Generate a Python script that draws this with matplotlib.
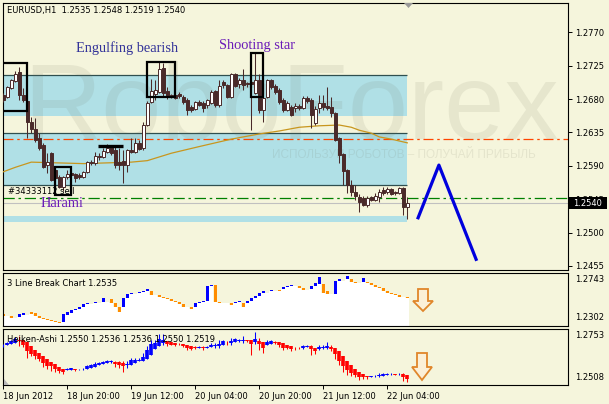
import matplotlib
matplotlib.use('Agg')
import matplotlib.pyplot as plt
from matplotlib.patches import Rectangle, Polygon

plt.rcParams['font.family'] = ['DejaVu Sans']

W, H = 609, 404
BG = '#f5f5dc'

# ---------------- data ----------------
opens = [1.2685, 1.2683, 1.2695, 1.2704, 1.2717, 1.2685, 1.2677, 1.2649, 1.2640, 1.2628,
         1.2618, 1.2591, 1.2607, 1.2584, 1.2575, 1.2561, 1.2575, 1.2580, 1.2579, 1.2578,
         1.2575, 1.2582, 1.2595, 1.2594, 1.2603, 1.2602, 1.2609, 1.2615, 1.2611, 1.2595,
         1.2597, 1.2591, 1.2611, 1.2609, 1.2621, 1.2614, 1.2645, 1.2676, 1.2687, 1.2690,
         1.2722, 1.2691, 1.2685, 1.2685, 1.2687, 1.2683, 1.2679, 1.2669, 1.2667, 1.2676,
         1.2675, 1.2672, 1.2675, 1.2691, 1.2672, 1.2703, 1.2699, 1.2683, 1.2714, 1.2700,
         1.2706, 1.2702, 1.2703, 1.2688, 1.2706, 1.2665, 1.2683, 1.2706, 1.2698, 1.2692,
         1.2679, 1.2665, 1.2669, 1.2668, 1.2671, 1.2668, 1.2681, 1.2679, 1.2648, 1.2668,
         1.2675, 1.2671, 1.2669, 1.2661, 1.2628, 1.2606, 1.2584, 1.2564, 1.2555, 1.2548,
         1.2547, 1.2537, 1.2548, 1.2544, 1.2548, 1.2557, 1.2555, 1.2559, 1.2555, 1.2553,
         1.2560, 1.2535]
highs = [1.2688, 1.2698, 1.2707, 1.2718, 1.2723, 1.2695, 1.2679, 1.2656, 1.2654, 1.2634,
         1.2621, 1.2607, 1.2609, 1.2587, 1.2578, 1.2576, 1.2584, 1.2582, 1.2580, 1.2580,
         1.2583, 1.2597, 1.2598, 1.2609, 1.2607, 1.2614, 1.2619, 1.2618, 1.2615, 1.2614,
         1.2611, 1.2613, 1.2628, 1.2628, 1.2625, 1.2649, 1.2677, 1.2707, 1.2706, 1.2730,
         1.2729, 1.2696, 1.2687, 1.2687, 1.2690, 1.2685, 1.2681, 1.2672, 1.2677, 1.2679,
         1.2677, 1.2680, 1.2692, 1.2692, 1.2706, 1.2706, 1.2700, 1.2715, 1.2715, 1.2708,
         1.2721, 1.2703, 1.2706, 1.2742, 1.2714, 1.2683, 1.2707, 1.2707, 1.2700, 1.2695,
         1.2681, 1.2677, 1.2672, 1.2675, 1.2673, 1.2684, 1.2684, 1.2681, 1.2671, 1.2685,
         1.2685, 1.2696, 1.2683, 1.2662, 1.2629, 1.2607, 1.2586, 1.2571, 1.2564, 1.2552,
         1.2549, 1.2549, 1.2549, 1.2553, 1.2559, 1.2561, 1.2561, 1.2560, 1.2556, 1.2562,
         1.2561, 1.2548]
lows = [1.2676, 1.2681, 1.2694, 1.2703, 1.2679, 1.2676, 1.2628, 1.2634, 1.2622, 1.2611,
        1.2587, 1.2580, 1.2570, 1.2563, 1.2560, 1.2556, 1.2572, 1.2576, 1.2568, 1.2572,
        1.2574, 1.2580, 1.2591, 1.2591, 1.2598, 1.2601, 1.2607, 1.2605, 1.2587, 1.2584,
        1.2567, 1.2582, 1.2607, 1.2607, 1.2611, 1.2611, 1.2644, 1.2675, 1.2679, 1.2688,
        1.2683, 1.2680, 1.2681, 1.2680, 1.2681, 1.2673, 1.2659, 1.2663, 1.2665, 1.2671,
        1.2663, 1.2668, 1.2673, 1.2669, 1.2669, 1.2695, 1.2681, 1.2681, 1.2696, 1.2695,
        1.2692, 1.2696, 1.2638, 1.2687, 1.2661, 1.2649, 1.2681, 1.2694, 1.2687, 1.2673,
        1.2663, 1.2664, 1.2657, 1.2663, 1.2665, 1.2667, 1.2675, 1.2641, 1.2645, 1.2661,
        1.2665, 1.2665, 1.2656, 1.2623, 1.2594, 1.2564, 1.2553, 1.2549, 1.2544, 1.2528,
        1.2536, 1.2535, 1.2542, 1.2542, 1.2541, 1.2551, 1.2552, 1.2551, 1.2551, 1.2552,
        1.2524, 1.2519]
closes = [1.2679, 1.2696, 1.2706, 1.2714, 1.2685, 1.2679, 1.2649, 1.2640, 1.2625, 1.2614,
          1.2588, 1.2595, 1.2571, 1.2574, 1.2561, 1.2575, 1.2579, 1.2578, 1.2574, 1.2575,
          1.2582, 1.2595, 1.2594, 1.2603, 1.2602, 1.2610, 1.2614, 1.2607, 1.2591, 1.2591,
          1.2591, 1.2611, 1.2609, 1.2621, 1.2613, 1.2645, 1.2675, 1.2691, 1.2692, 1.2720,
          1.2688, 1.2683, 1.2683, 1.2682, 1.2684, 1.2676, 1.2665, 1.2665, 1.2676, 1.2672,
          1.2668, 1.2679, 1.2690, 1.2672, 1.2698, 1.2699, 1.2683, 1.2714, 1.2698, 1.2706,
          1.2699, 1.2700, 1.2700, 1.2706, 1.2665, 1.2681, 1.2706, 1.2696, 1.2690, 1.2676,
          1.2665, 1.2675, 1.2659, 1.2671, 1.2668, 1.2681, 1.2677, 1.2659, 1.2667, 1.2675,
          1.2669, 1.2668, 1.2661, 1.2625, 1.2605, 1.2583, 1.2564, 1.2555, 1.2549, 1.2541,
          1.2537, 1.2547, 1.2544, 1.2549, 1.2555, 1.2553, 1.2559, 1.2552, 1.2553, 1.2560,
          1.2535, 1.2540]

ma_idx = [0, 3, 7, 20, 32, 36, 42, 49, 57, 64, 69, 74, 79, 84, 87, 89, 92, 94, 97, 101]
ma_val = [1.2582, 1.2588, 1.2595, 1.2593, 1.2595, 1.2597, 1.2607, 1.2616, 1.2626, 1.2633,
          1.2637, 1.2642, 1.2644, 1.2645, 1.2642, 1.2638, 1.2634, 1.2629, 1.2626, 1.2621]

# 3 Line Break bricks: bar index, low, high, direction (1 up / 0 down)
lb_idx = [0, 2, 4, 5, 7, 8, 9, 10, 11, 12, 13, 14, 15, 16, 17, 18, 19, 20, 21, 23,
          25, 27, 28, 29, 30, 31, 32, 34, 35, 36, 37, 39, 40, 41, 42, 43, 44, 45, 47, 48,
          49, 50, 51, 52, 53, 54, 55, 57, 58, 59, 60, 61, 62, 63, 64, 65, 67, 69, 70, 71,
          72, 74, 75, 77, 78, 79, 80, 81, 83, 84, 86, 87, 88, 90, 91, 92, 93, 94, 95, 96,
          97, 98, 99, 100, 101]
lb_low = [1.2389, 1.2369, 1.2377, 1.2394, 1.2402, 1.2385, 1.2371, 1.2363, 1.2352, 1.2344,
          1.2335, 1.2330, 1.2338, 1.2394, 1.2413, 1.2435, 1.2441, 1.2458, 1.2483, 1.2496,
          1.2504, 1.2496, 1.2458, 1.2421, 1.2458, 1.2533, 1.2566, 1.2579, 1.2587, 1.2596,
          1.2560, 1.2546, 1.2533, 1.2524, 1.2513, 1.2499, 1.2485, 1.2463, 1.2443, 1.2463,
          1.2496, 1.2504, 1.2513, 1.2635, 1.2504, 1.2496, 1.2491, 1.2474, 1.2491, 1.2504,
          1.2463, 1.2496, 1.2513, 1.2533, 1.2552, 1.2574, 1.2596, 1.2596, 1.2607, 1.2624,
          1.2635, 1.2616, 1.2602, 1.2607, 1.2635, 1.2651, 1.2574, 1.2568, 1.2568, 1.2679,
          1.2691, 1.2671, 1.2662, 1.2671, 1.2657, 1.2643, 1.2629, 1.2616, 1.2596, 1.2579,
          1.2568, 1.2560, 1.2546, 1.2541, 1.2533]
lb_high = [1.2398, 1.2385, 1.2402, 1.2410, 1.2419, 1.2410, 1.2388, 1.2371, 1.2363, 1.2352,
           1.2344, 1.2338, 1.2399, 1.2421, 1.2435, 1.2441, 1.2463, 1.2485, 1.2491, 1.2504,
           1.2533, 1.2527, 1.2496, 1.2458, 1.2533, 1.2566, 1.2574, 1.2587, 1.2596, 1.2607,
           1.2596, 1.2560, 1.2546, 1.2533, 1.2524, 1.2513, 1.2499, 1.2485, 1.2463, 1.2496,
           1.2504, 1.2513, 1.2635, 1.2643, 1.2643, 1.2504, 1.2496, 1.2491, 1.2504, 1.2513,
           1.2496, 1.2513, 1.2533, 1.2552, 1.2574, 1.2596, 1.2602, 1.2602, 1.2624, 1.2635,
           1.2641, 1.2635, 1.2616, 1.2635, 1.2657, 1.2712, 1.2651, 1.2596, 1.2679, 1.2691,
           1.2718, 1.2691, 1.2671, 1.2699, 1.2671, 1.2657, 1.2643, 1.2629, 1.2616, 1.2596,
           1.2579, 1.2568, 1.2560, 1.2546, 1.2541]
lb_up = [0, 0, 1, 1, 0, 0, 0, 0, 0, 0, 0, 0, 1, 1, 1, 1, 1, 1, 1, 1,
         1, 0, 0, 0, 1, 1, 1, 1, 1, 1, 0, 0, 0, 0, 0, 0, 0, 0, 0, 1,
         1, 1, 1, 1, 0, 0, 0, 0, 1, 1, 0, 1, 1, 1, 1, 1, 1, 0, 1, 1,
         1, 0, 0, 1, 1, 1, 0, 0, 1, 1, 1, 0, 0, 1, 0, 0, 0, 0, 0, 0,
         0, 0, 0, 0, 0]

time_idx = [0, 16, 32, 48, 64, 80, 96]
time_labels = ['18 Jun 2012', '18 Jun 20:00', '19 Jun 12:00', '20 Jun 04:00',
               '20 Jun 20:00', '21 Jun 12:00', '22 Jun 04:00']
price_ticks = [1.2455, 1.2500, 1.2545, 1.2590, 1.2635, 1.2680, 1.2725, 1.2770]

zone_upper = (1.2657, 1.2712)
zone_lower = (1.2564, 1.2634)
zone_thin = (1.2514, 1.2522)
zone_end = 100.9
level_lines = [1.2712, 1.2634, 1.2564]
green_level = 1.2547
red_level = 1.2626
last_price = 1.2540

box_x0 = [-0.3, 35.9, 61.9, 12.9]
box_x1 = [5.9, 42.9, 64.9, 16.9]
box_lo = [1.2664, 1.2683, 1.2683, 1.2551]
box_hi = [1.2729, 1.2730, 1.2742, 1.2588]
mark_x = [23.7, 29.9]
mark_y = 1.2617

fc_idx = [103.7, 108.9, 118.2]
fc_val = [1.2520, 1.2591, 1.2464]

# ---------------- figure ----------------
fig = plt.figure(figsize=(W / 100, H / 100), dpi=100, facecolor=BG)


def px_axes(x0, y0, x1, y1):
    a = fig.add_axes([x0 / W, 1 - y1 / H, (x1 - x0) / W, (y1 - y0) / H])
    a.set_facecolor(BG)
    for s in a.spines.values():
        s.set_linewidth(0.8)
        s.set_color('black')
    return a


def ftxt(x, y, s, **kw):
    kw.setdefault('va', 'center')
    return fig.text(x / W, 1 - y / H, s, **kw)


def fpoly(pts, **kw):
    p = Polygon([(x / W, 1 - y / H) for x, y in pts], closed=True,
                transform=fig.transFigure, **kw)
    fig.add_artist(p)


XL, XR = -0.075, 141.175
n = len(opens)

# ---- main chart ----
ax = px_axes(3, 3, 568, 270)
ax.set_xlim(XL, XR)
ax.set_ylim(1.24496, 1.28095)

ax.add_patch(Rectangle((XL, zone_upper[0]), zone_end - XL, zone_upper[1] - zone_upper[0],
                       facecolor='#b0e0e6', edgecolor='none', zorder=1))
ax.add_patch(Rectangle((XL, zone_lower[0]), zone_end - XL, zone_lower[1] - zone_lower[0],
                       facecolor='#b0e0e6', edgecolor='none', zorder=1))
ax.add_patch(Rectangle((XL, zone_thin[0]), zone_end - XL, zone_thin[1] - zone_thin[0],
                       facecolor='#b0e0e6', edgecolor='none', zorder=1))
ax.hlines(level_lines, XL, zone_end, colors='#2f4f4f', lw=0.9, zorder=2)

ax.text(0.035, 0.49, 'RoboForex', transform=ax.transAxes, fontsize=78,
        family='Liberation Sans', color='#6e6e5a', alpha=0.11, zorder=2,
        va='baseline', ha='left', clip_on=True)
ax.text(0.476, 0.431, 'ИСПОЛЬЗУЙ РОБОТОВ – ПОЛУЧАЙ ПРИБЫЛЬ', transform=ax.transAxes,
        fontsize=8.5, family='Liberation Sans', color='#6e6e5a', alpha=0.12,
        zorder=2, va='center', ha='left')

ax.axhline(red_level, color='#ff4500', lw=0.9, ls=(0, (8, 3, 2, 3)), zorder=2)
ax.axhline(green_level, color='#008000', lw=0.9, ls=(0, (9, 3, 2, 3)), zorder=2)
ax.axhline(last_price, color='#c0c0c0', lw=0.8, zorder=2)

ax.plot(ma_idx, ma_val, color='#c8961e', lw=0.9, zorder=3)

ccol = '#4a2a2a'
for i in range(n):
    o, h, l, c = opens[i], highs[i], lows[i], closes[i]
    ax.vlines(i, l, h, color=ccol, lw=0.75, zorder=4)
    lo = min(o, c)
    ht = max(abs(c - o), 0.00004)
    face = ccol if c < o else 'white'
    ax.add_patch(Rectangle((i - 0.36, lo), 0.72, ht, facecolor=face, edgecolor=ccol,
                           lw=0.7, zorder=5))

for x0, x1, lo, hi in zip(box_x0, box_x1, box_lo, box_hi):
    ax.add_patch(Rectangle((x0, lo), x1 - x0, hi - lo, facecolor='none',
                           edgecolor='black', lw=1.6, zorder=6))
ax.plot(mark_x, [mark_y, mark_y], color='black', lw=2.4, solid_capstyle='butt', zorder=6)

ax.plot(fc_idx, fc_val, color='#0000dd', lw=2.3, zorder=6)

ax.set_xticks([])
ax.yaxis.tick_right()
ax.set_yticks(price_ticks)
ax.set_yticklabels(['%.4f' % v for v in price_ticks])
ax.tick_params(axis='y', length=3, width=0.7, labelsize=6, pad=2)

# price tag
fig.add_artist(Rectangle((569 / W, 1 - 209 / H), 38 / W, 12 / H, transform=fig.transFigure,
                         facecolor='black', edgecolor='none', zorder=10))
ftxt(588, 203, '%.4f' % last_price, color='white', fontsize=6, ha='center', zorder=11)

# texts on main chart
ftxt(7, 10, 'EURUSD,H1  1.2535 1.2548 1.2519 1.2540', fontsize=6, ha='left')
ftxt(76, 52, 'Engulfing bearish', fontsize=10.4, family='Liberation Serif',
     color='#333399', ha='left', va='baseline')
ftxt(219, 49.5, 'Shooting star', fontsize=10.4, family='Liberation Serif',
     color='#6a1ab8', ha='left', va='baseline')
ftxt(41, 207, 'Harami', fontsize=10.4, family='Liberation Serif',
     color='#6a1ab8', ha='left', va='baseline')
ftxt(8, 192, '#34333112 sell', fontsize=6, ha='left', color='black', zorder=7)

fpoly([(404, 3), (413, 3), (408.5, 8)], facecolor='#999999', edgecolor='none')

# ---- 3 Line Break panel ----
ax3 = px_axes(3, 273, 568, 326)
ax3.set_xlim(XL, XR)
lb_min, lb_max = 1.2302, 1.2743
ax3.set_ylim(lb_min, lb_max)
lvl = {}
cur = lb_low[0]
lowmap = dict(zip(lb_idx, lb_low))
fill_lv = []
for i in range(n):
    if i in lowmap:
        cur = lowmap[i]
    fill_lv.append(cur)
ax3.bar(range(n), [v - lb_min for v in fill_lv], bottom=lb_min, width=1.0,
        color='white', lw=0, zorder=1)
for i, lo, hi, up in zip(lb_idx, lb_low, lb_high, lb_up):
    ax3.add_patch(Rectangle((i - 0.42, lo), 0.84, max(hi - lo, 0.0006),
                            facecolor='#0000ff' if up else '#ff8c00',
                            edgecolor='none', zorder=2))
ax3.set_xticks([])
ax3.set_yticks([])
ftxt(7, 283, '3 Line Break Chart 1.2535', fontsize=6, ha='left')
ftxt(575, 280, '1.2743', fontsize=6, ha='left')
ftxt(575, 318, '1.2302', fontsize=6, ha='left')

# ---- Heiken-Ashi panel ----
axh = px_axes(3, 329, 568, 385)
axh.set_xlim(XL, XR)
axh.set_ylim(1.2508, 1.2753)
ha_o, ha_c, ha_h, ha_l = [], [], [], []
for i in range(n):
    c = (opens[i] + highs[i] + lows[i] + closes[i]) / 4
    o = (opens[i] + closes[i]) / 2 if i == 0 else (ha_o[-1] + ha_c[-1]) / 2
    ha_o.append(o)
    ha_c.append(c)
    ha_h.append(max(highs[i], o, c))
    ha_l.append(min(lows[i], o, c))
for i in range(n):
    col = '#ff0000' if ha_c[i] < ha_o[i] else '#0000ff'
    axh.vlines(i, ha_l[i], ha_h[i], color=col, lw=0.75, zorder=3)
    axh.vlines(i, min(ha_o[i], ha_c[i]), max(ha_o[i], ha_c[i]) + 0.00015, color=col,
               lw=2.6, zorder=3)
axh.set_yticks([])
axh.set_xticks(time_idx)
axh.set_xticklabels(time_labels)
for lab in axh.get_xticklabels():
    lab.set_ha('left')
axh.tick_params(axis='x', length=3, width=0.7, labelsize=6, pad=2)
ftxt(7, 339, 'Heiken-Ashi 1.2550 1.2536 1.2536 1.2550 1.2519', fontsize=6, ha='left',
     zorder=5)
ftxt(575, 336, '1.2753', fontsize=6, ha='left')
ftxt(575, 378, '1.2508', fontsize=6, ha='left')
fpoly([(3.5, 379), (3.5, 385), (9, 385)], facecolor='#b8b8b8', edgecolor='none')

# orange hollow arrows
for cx, yt, yh, yp in [(423, 289, 301, 311), (422, 353, 367, 380)]:
    fpoly([(cx - 5, yt), (cx + 5, yt), (cx + 5, yh), (cx + 10, yh), (cx, yp),
           (cx - 10, yh), (cx - 5, yh)], facecolor='#fbf0d8', edgecolor='#e0862a',
          lw=1.3)

fig.savefig('out.png', dpi=100, facecolor=BG)
